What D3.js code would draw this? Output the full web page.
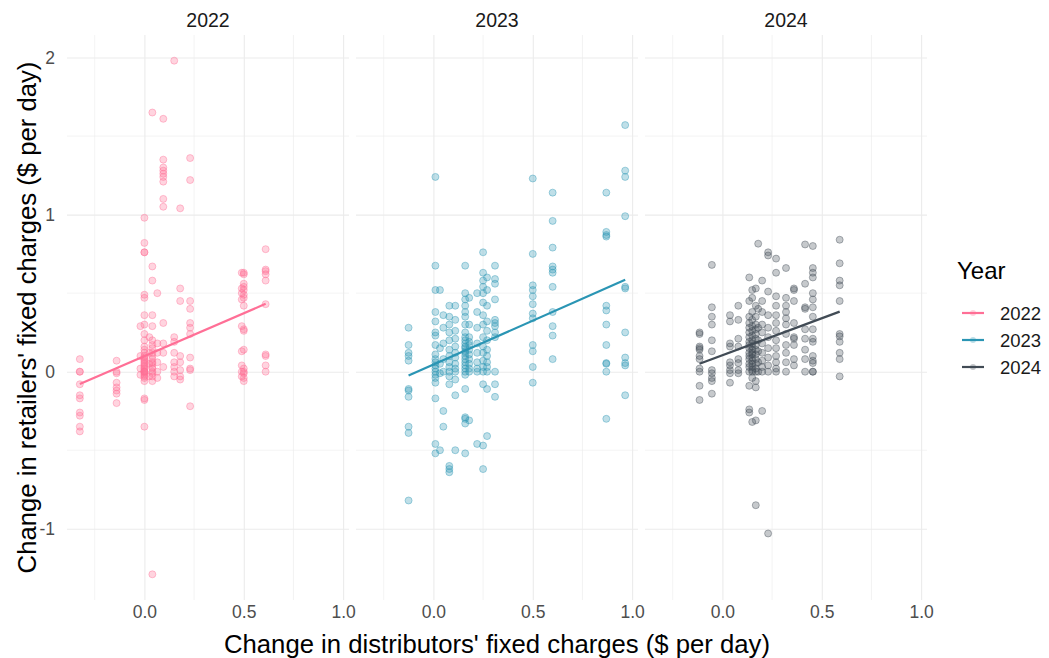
<!DOCTYPE html>
<html>
<head>
<meta charset="utf-8">
<script src="https://cdn.jsdelivr.net/npm/d3@7"></script>
<style>
    body { margin: 0; background: #fff; }
    text { font-family: "Liberation Sans", Arial, sans-serif; }
</style>
</head>
<body>
<svg id="chart" width="1049" height="658"></svg>
<script>
// each column: [x, [y values...]]
const cols2022 = [
    [-0.325, [0.08, 0.0, 0.0, -0.08, -0.15, -0.17, -0.26, -0.28, -0.35, -0.38]],
    [-0.14, [0.07, 0.0, -0.01, -0.07, -0.1, -0.12, -0.14, -0.2]],
    [-0.02, [0.29, 0.1, 0.02, -0.02]],
    [0.0, [0.98, 0.82, 0.76, 0.76, 0.49, 0.47, 0.36, 0.30, 0.24, 0.20, 0.16, 0.14, 0.12, 0.10, 0.09, 0.08, 0.07, 0.06, 0.05, 0.04, 0.03, 0.02, 0.01, 0.0, 0.0, 0.0, -0.01, -0.02, -0.03, -0.04, -0.06, -0.17, -0.18, -0.35]],
    [0.025, [0.22, 0.12, 0.05, -0.03]],
    [0.04, [1.65, 0.67, 0.58, 0.36, 0.29, 0.2, 0.17, 0.15, 0.12, 0.1, 0.08, 0.06, 0.05, 0.03, 0.02, 0.0, -0.01, -0.03, -0.06, -1.29]],
    [0.065, [0.5, 0.18, 0.12, 0.06, 0.0, -0.04]],
    [0.095, [1.61, 1.35, 1.30, 1.28, 1.26, 1.24, 1.21, 1.10, 1.05, 0.31, 0.18, 0.12, 0.03]],
    [0.15, [1.98, 0.22, 0.19, 0.12, 0.06, 0.03, 0.0, -0.03]],
    [0.18, [1.04, 0.53, 0.45, 0.10, 0.06, 0.01, -0.03, -0.05]],
    [0.23, [1.36, 1.22, 0.45, 0.40, 0.31, 0.28, 0.24, 0.09, 0.02, 0.01, -0.22]],
    [0.49, [0.63, 0.53, 0.50, 0.46, 0.29, 0.13, 0.04, 0.0, -0.03]],
    [0.5, [0.63, 0.62, 0.56, 0.54, 0.52, 0.49, 0.47, 0.42, 0.27, 0.26, 0.14, 0.02, 0.0, -0.01, -0.04, -0.06]],
    [0.61, [0.78, 0.65, 0.64, 0.62, 0.58, 0.43, 0.11, 0.10, 0.04, 0.0]]
];

const cols2023 = [
    [-0.125, [0.28, 0.17, 0.12, 0.10, 0.07, -0.11, -0.12, -0.16, -0.35, -0.39, -0.82]],
    [0.01, [1.24, 0.675, 0.52, 0.38, 0.32, 0.25, 0.23, 0.17, 0.11, 0.08, 0.06, 0.04, 0.02, 0.0, -0.02, -0.04, -0.07, -0.17, -0.46, -0.52]],
    [0.033, [0.52, 0.15, 0.05, -0.01, -0.5]],
    [0.05, [0.36, 0.28, 0.18, 0.08, 0.0, -0.25, -0.35]],
    [0.08, [0.42, 0.35, 0.30, 0.25, 0.20, 0.14, 0.10, 0.06, 0.03, 0.0, -0.03, -0.08, -0.60, -0.62, -0.64]],
    [0.11, [0.42, 0.33, 0.26, 0.21, 0.16, 0.12, 0.09, 0.05, 0.02, 0.0, -0.05, -0.15, -0.50]],
    [0.16, [0.675, 0.50, 0.46, 0.42, 0.38, 0.35, 0.30, 0.25, 0.22, 0.20, 0.18, 0.16, 0.15, 0.13, 0.12, 0.10, 0.08, 0.06, 0.04, 0.02, 0.0, -0.02, -0.11, -0.29, -0.30, -0.33, -0.52]],
    [0.18, [0.47, 0.30, 0.22, 0.19, 0.17, 0.14, 0.11, 0.08, 0.05, 0.02, 0.0, -0.31]],
    [0.22, [0.5, 0.38, 0.28, 0.18, 0.12, 0.06, 0.02, 0.0, -0.46]],
    [0.25, [0.76, 0.63, 0.58, 0.54, 0.50, 0.44, 0.36, 0.30, 0.22, 0.16, 0.12, 0.07, 0.03, 0.0, -0.08, -0.47, -0.62]],
    [0.27, [0.60, 0.52, 0.42, 0.32, 0.26, 0.20, 0.14, 0.10, 0.06, 0.03, 0.0, -0.11, -0.41]],
    [0.31, [0.675, 0.59, 0.56, 0.46, 0.33, 0.31, 0.29, 0.25, 0.22, 0.0, -0.08, -0.16]],
    [0.5, [1.23, 0.75, 0.55, 0.52, 0.48, 0.43, 0.37, 0.34, 0.17, 0.13, 0.03, -0.07]],
    [0.6, [1.14, 0.96, 0.79, 0.67, 0.65, 0.63, 0.54, 0.38, 0.29, 0.23, 0.08]],
    [0.87, [1.14, 0.89, 0.87, 0.86, 0.42, 0.39, 0.30, 0.17, 0.055, 0.05, 0.0, -0.30]],
    [0.965, [1.57, 1.28, 1.24, 0.99, 0.54, 0.53, 0.25, 0.09, 0.055, 0.04, -0.15]]
];

const cols2024 = [
    [-0.115, [0.25, 0.24, 0.16, 0.15, 0.14, 0.10, 0.08, 0.02, 0.0, -0.09, -0.18]],
    [-0.053, [0.68, 0.41, 0.35, 0.30, 0.20, 0.13, 0.01, -0.01, -0.04, -0.06, -0.14]],
    [0.038, [0.36, 0.32, 0.18, 0.16, 0.06, 0.04, 0.01, -0.01, -0.07]],
    [0.08, [0.42, 0.33, 0.21, 0.16, 0.08, 0.055, 0.01, -0.01]],
    [0.135, [0.60, 0.45, 0.35, 0.31, 0.28, 0.25, 0.22, 0.19, 0.17, 0.15, 0.12, 0.10, 0.08, 0.05, 0.03, 0.0, -0.09, -0.24, -0.26]],
    [0.15, [0.52, 0.47, 0.38, 0.33, 0.29, 0.26, 0.23, 0.20, 0.18, 0.16, 0.14, 0.12, 0.11, 0.09, 0.07, 0.05, 0.03, 0.01, 0.0, -0.04, -0.32]],
    [0.168, [0.53, 0.42, 0.35, 0.30, 0.27, 0.24, 0.21, 0.17, 0.14, 0.11, 0.08, 0.05, 0.02, 0.0, -0.06, -0.10, -0.31, -0.85]],
    [0.18, [0.815, 0.40, 0.28, 0.20, 0.13, 0.06, 0.0]],
    [0.2, [0.58, 0.45, 0.38, 0.30, 0.25, 0.18, 0.12, 0.07, 0.03, 0.0, -0.25]],
    [0.23, [0.76, 0.74, 0.51, 0.36, 0.28, 0.22, 0.15, 0.09, 0.04, 0.0, -1.03]],
    [0.27, [0.72, 0.63, 0.48, 0.42, 0.36, 0.31, 0.26, 0.20, 0.15, 0.10, 0.06, 0.02, 0.0]],
    [0.32, [0.66, 0.47, 0.42, 0.38, 0.34, 0.30, 0.24, 0.17, 0.12, 0.06, 0.0]],
    [0.36, [0.53, 0.52, 0.45, 0.31, 0.22, 0.21, 0.17, 0.08, 0.04]],
    [0.416, [0.81, 0.56, 0.41, 0.40, 0.27, 0.21, 0.14, 0.08, 0.0]],
    [0.455, [0.80, 0.66, 0.63, 0.60, 0.50, 0.46, 0.41, 0.35, 0.27, 0.21, 0.19, 0.10, 0.07, 0.055, 0.0, 0.0]],
    [0.59, [0.84, 0.69, 0.58, 0.55, 0.45, 0.24, 0.225, 0.19, 0.12, 0.08, -0.03]]
];

const years = ['2022', '2023', '2024'];
const yearColors = ['#FF6F96', '#2A95B4', '#414B55'];
// lm fits
const fitIntercepts = [0.099, 0.045, 0.105];
const fitSlopes = [0.546, 0.56, 0.47];

const xTicks = [0, 0.5, 1.0];
const xMinor = [-0.25, 0.25, 0.75];
const yTicks = [-1, 0, 1, 2];
const yMinor = [-0.5, 0.5, 1.5];

const PANEL_LEFT = 67;
const PANEL_TOP = 35;
const PANEL_W = 282;
const PANEL_H = 565;
const PANEL_GAP = 7;
const GRID = '#EBEBEB';

const flat = (cols) => cols.flatMap(c => c[1].map(y => ({x: c[0], y: y})));
const panels = [cols2022, cols2023, cols2024].map(flat);
const all = panels.flat();

// ggplot style 5% expansion
const expand = (ext) => {
    const pad = (ext[1] - ext[0]) * 0.05;
    return [ext[0] - pad, ext[1] + pad];
};

const xScale = d3.scaleLinear()
    .domain(expand(d3.extent(all, d => d.x)))
    .range([0, PANEL_W]);

const yScale = d3.scaleLinear()
    .domain(expand(d3.extent(all, d => d.y)))
    .range([PANEL_H, 0]);

const svg = d3.select('#chart');

panels.forEach((pts, i) => {
    const g = svg.append('g')
        .attr('transform', `translate(${PANEL_LEFT + i * (PANEL_W + PANEL_GAP)},${PANEL_TOP})`);

    // minor grid
    g.selectAll('.xminor').data(xMinor).join('line')
        .attr('x1', d => xScale(d)).attr('x2', d => xScale(d))
        .attr('y1', 0).attr('y2', PANEL_H)
        .attr('stroke', GRID).attr('stroke-width', 0.6);
    g.selectAll('.yminor').data(yMinor).join('line')
        .attr('y1', d => yScale(d)).attr('y2', d => yScale(d))
        .attr('x1', 0).attr('x2', PANEL_W)
        .attr('stroke', GRID).attr('stroke-width', 0.6);

    // x axis, tick lines used as major grid
    const xAxis = g.append('g')
        .call(d3.axisBottom(xScale).tickValues(xTicks).tickFormat(d3.format('.1f')).tickSize(0));
    xAxis.select('.domain').remove();
    xAxis.selectAll('.tick line').attr('y1', 0).attr('y2', PANEL_H)
        .attr('stroke', GRID).attr('stroke-width', 1.1);
    xAxis.selectAll('.tick text')
        .attr('y', PANEL_H + 12)
        .attr('dy', null)
        .attr('dominant-baseline', 'central')
        .attr('fill', '#4D4D4D')
        .attr('font-size', 17.5)
        .attr('font-family', '"Liberation Sans", Arial, sans-serif');

    const yAxis = g.append('g')
        .call(d3.axisLeft(yScale).tickValues(yTicks).tickFormat(d => String(d)).tickSize(0).tickPadding(12));
    yAxis.select('.domain').remove();
    yAxis.selectAll('.tick').append('line')
        .attr('x1', 0).attr('x2', PANEL_W)
        .attr('stroke', GRID).attr('stroke-width', 1.1);
    yAxis.selectAll('.tick text')
        .attr('fill', '#4D4D4D')
        .attr('font-size', 17.5)
        .attr('font-family', '"Liberation Sans", Arial, sans-serif')
        .style('display', i === 0 ? null : 'none');

    // strip label
    g.append('text')
        .attr('x', PANEL_W / 2)
        .attr('y', -15)
        .attr('text-anchor', 'middle')
        .attr('dominant-baseline', 'central')
        .attr('fill', '#1A1A1A')
        .attr('font-size', 19.5)
        .text(years[i]);

    // points
    g.append('g').selectAll('circle')
        .data(pts)
        .join('circle')
        .attr('cx', d => xScale(d.x))
        .attr('cy', d => yScale(d.y))
        .attr('r', 3.5)
        .attr('fill', yearColors[i])
        .attr('fill-opacity', 0.3)
        .attr('stroke', yearColors[i])
        .attr('stroke-opacity', 0.4)
        .attr('stroke-width', 1);

    // fitted line across the data range
    const xr = d3.extent(pts, d => d.x);
    const line = d3.line()
        .x(d => xScale(d))
        .y(d => yScale(fitIntercepts[i] + fitSlopes[i] * d));
    g.append('path')
        .datum(xr)
        .attr('d', line)
        .attr('fill', 'none')
        .attr('stroke', yearColors[i])
        .attr('stroke-width', 2.2);
});

// axis titles
svg.append('text')
    .attr('x', PANEL_LEFT + (3 * PANEL_W + 2 * PANEL_GAP) / 2)
    .attr('y', 644)
    .attr('text-anchor', 'middle')
    .attr('dominant-baseline', 'central')
    .attr('font-size', 25.7)
    .text("Change in distributors' fixed charges ($ per day)");

svg.append('text')
    .attr('transform', `translate(27,${PANEL_TOP + PANEL_H / 2}) rotate(-90)`)
    .attr('text-anchor', 'middle')
    .attr('dominant-baseline', 'central')
    .attr('font-size', 25.7)
    .text("Change in retailers' fixed charges ($ per day)");

// legend
const legend = svg.append('g').attr('transform', 'translate(957,0)');
legend.append('text')
    .attr('x', 0)
    .attr('y', 270)
    .attr('dominant-baseline', 'central')
    .attr('font-size', 24)
    .text('Year');

const item = legend.selectAll('.item')
    .data(years)
    .join('g')
    .attr('transform', (d, i) => `translate(0,${313 + i * 27})`);
item.append('line')
    .attr('x1', 5).attr('x2', 27)
    .attr('stroke', (d, i) => yearColors[i])
    .attr('stroke-width', 2.2);
item.append('circle')
    .attr('cx', 16).attr('r', 3)
    .attr('fill', (d, i) => yearColors[i])
    .attr('fill-opacity', 0.3);
item.append('text')
    .attr('x', 43)
    .attr('dominant-baseline', 'central')
    .attr('fill', '#1A1A1A')
    .attr('font-size', 18.5)
    .text(d => d);
</script>
</body>
</html>
